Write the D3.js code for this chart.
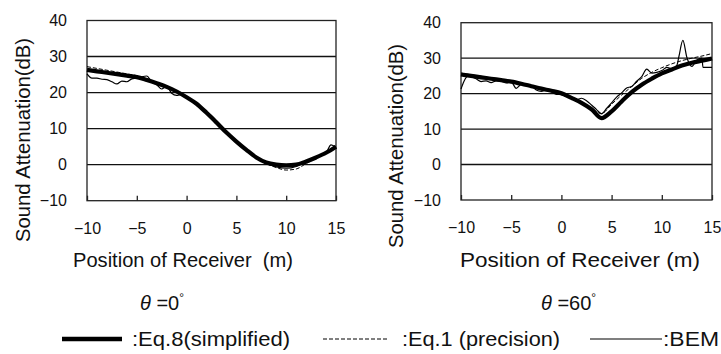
<!DOCTYPE html>
<html>
<head>
<meta charset="utf-8">
<script src="https://cdn.jsdelivr.net/npm/d3@7"></script>
<style>
  body { margin: 0; background: #fff; }
  svg { font-family: "Liberation Sans", Arial, sans-serif; }
  .grid-line { stroke: #111; stroke-width: 1.4; }
  .frame { fill: none; stroke: #222; stroke-width: 1.3; }
</style>
</head>
<body>
<svg id="chart" width="721" height="354"></svg>
<script>
// tick values shared by both panels
const xTicks = [-10, -5, 0, 5, 10, 15];
const yTicks = [-10, 0, 10, 20, 30, 40];

// theta = 0 deg
const xEq8L = [-10,-9,-8,-7,-6,-5,-4,-3,-2,-1,0,1,2,3,4,5,6,7,8,9,10,11,12,13,14,15];
const eq8L = [26.3,25.9,25.5,25.1,24.7,24.3,23.5,22.6,21.6,20.3,18.7,16.9,14.4,11.7,8.9,6.4,4.1,2.0,0.6,0.0,-0.2,0.0,0.9,2.0,3.3,5.0];
const xEq1L = [-10,-9,-8,-7,-6,-5,-4,-3,-2,-1,0,1,2,3,4,5,6,7,8,9,10,11,12,13,14,15];
const eq1L = [27.2,26.7,26.2,25.7,25.2,24.7,23.9,22.8,21.7,20.2,18.5,16.8,14.6,12.2,9.2,6.5,4.0,1.8,0.3,-0.8,-1.5,-1.2,0.3,1.8,3.3,5.5];
const xBemL = [-10,-9.5,-9,-8.5,-8,-7.5,-7,-6.5,-6,-5.5,-5,-4.5,-4,-3.5,-3,-2.5,-2,-1.5,-1,-0.5,0,1,2,2.5,3,4,5,6,7,8,9,10,11,12,13,14,14.5,15];
const bemL = [25.2,24.0,24.0,23.7,23.6,23.0,22.4,23.2,23.0,23.8,24.0,24.4,24.6,23.0,22.2,21.0,21.8,19.8,19.2,19.5,18.6,17.0,14.5,13.6,12.2,9.0,6.2,4.0,2.0,0.4,-0.6,-1.0,-0.5,1.0,2.0,3.3,5.5,4.8];

// theta = 60 deg
const xEq8R = [-10,-9,-8,-7,-6,-5,-4,-3,-2,-1,0,1,2,3,4,5,6,7,8,9,10,11,12,13,14,15];
const eq8R = [25.4,25.0,24.6,24.2,23.8,23.4,22.8,22.1,21.4,20.8,20.1,18.8,17.4,15.6,13.1,15.0,17.8,20.4,22.5,24.2,25.7,26.8,27.9,28.7,29.3,29.9];
const xEq1R = [-10,-9,-8,-7,-6,-5,-4,-3,-2,-1,0,1,2,3,4,5,6,7,8,9,10,11,12,13,14,15];
const eq1R = [25.8,25.3,24.9,24.4,24.0,23.5,22.9,22.2,21.4,20.6,19.7,18.6,17.3,15.8,14.4,17.0,19.6,22.0,24.3,26.0,27.3,28.4,29.3,30.0,30.6,31.3];
const xBemR = [-10,-9.7,-9.3,-9,-8.5,-8,-7.5,-7,-6.5,-6,-5.5,-5,-4.5,-4,-3.5,-3,-2.5,-2,-1.5,-1,-0.5,0,0.5,1,1.5,2,2.5,3,3.5,4,4.5,5,5.5,6,6.5,7,7.5,8,8.5,9,9.5,10,10.5,11,11.5,11.7,12.1,12.5,13,13.5,14,14.1,14.5,15];
const bemR = [21.3,23.5,25.0,24.8,24.2,23.4,23.6,23.1,23.6,23.5,23.0,23.3,21.5,22.6,22.5,22.3,21.0,20.6,21.2,20.6,19.8,19.7,19.3,18.9,18.3,18.7,18.0,16.8,15.5,14.3,15.8,17.4,19.0,20.2,21.6,22.0,23.5,24.8,26.9,25.8,26.0,26.5,27.4,27.0,28.0,30.4,35.0,30.2,27.7,29.5,30.0,27.4,27.4,27.4];

const panels = [
  {x0: 87, x1: 336, yTop: 20.5, yBot: 200.7, xs: [xEq8L, xEq1L, xBemL], ys: [eq8L, eq1L, bemL],
   titleX: 29.5, titleY: 140, xTitle: 'Position of Receiver\u00a0\u00a0(m)', xTitleX: 73, xTitleW: 220, theta: '0', thetaX: 140},
  {x0: 461, x1: 712, yTop: 22.7, yBot: 200, xs: [xEq8R, xEq1R, xBemR], ys: [eq8R, eq1R, bemR],
   titleX: 403, titleY: 146, xTitle: 'Position of Receiver (m)', xTitleX: 460, xTitleW: 240, theta: '60', thetaX: 541}
];

const styles = [
  {w: 4.2, dash: null},
  {w: 1.0, dash: '4,2'},
  {w: 1.2, dash: null}
];

const svg = d3.select('#chart');

panels.forEach(function(p) {
  const scaleX = d3.scaleLinear().domain([-10, 15]).range([p.x0, p.x1]);
  const scaleY = d3.scaleLinear().domain([-10, 40]).range([p.yBot, p.yTop]);
  const g = svg.append('g');

  // grid lines
  g.selectAll('.grid-line').data([0, 10, 20, 30]).enter().append('line').attr('class', 'grid-line')
    .attr('x1', p.x0).attr('x2', p.x1).attr('y1', function(d) { return scaleY(d); }).attr('y2', function(d) { return scaleY(d); });
  g.append('rect').attr('class', 'frame').attr('x', p.x0).attr('y', p.yTop).attr('width', p.x1 - p.x0).attr('height', p.yBot - p.yTop);

  const xAxis = d3.axisBottom(scaleX).tickValues(xTicks).tickSize(-5).tickPadding(22).tickFormat(function(d) { return d < 0 ? '\u2212' + (-d) : d; });
  const ax = g.append('g').attr('transform', 'translate(0,' + p.yBot + ')').call(xAxis);
  ax.select('.domain').remove();
  ax.selectAll('text').attr('font-size', 16).attr('fill', '#111').attr('font-family', null);
  ax.selectAll('line').attr('stroke', '#222').attr('stroke-width', 1.3);

  const yAxis = d3.axisLeft(scaleY).tickValues(yTicks).tickSize(0).tickPadding(20).tickFormat(function(d) { return d < 0 ? '\u2212' + (-d) : d; });
  const ay = g.append('g').attr('transform', 'translate(' + p.x0 + ',0)').call(yAxis);
  ay.select('.domain').remove();
  ay.selectAll('text').attr('font-size', 16).attr('fill', '#111').attr('font-family', null);

  // curves
  p.xs.forEach(function(xs, k) {
    const pts = xs.map(function(x, i) { return [scaleX(x), scaleY(p.ys[k][i])]; });
    const line = d3.line().curve(d3.curveMonotoneX);
    g.append('path').attr('d', line(pts)).attr('fill', 'none').attr('stroke', '#000')
      .attr('stroke-width', styles[k].w).attr('stroke-dasharray', styles[k].dash).attr('stroke-linejoin', 'round');
  });

  // titles
  g.append('text').attr('transform', 'translate(' + p.titleX + ',' + p.titleY + ') rotate(-90)').attr('text-anchor', 'middle')
    .attr('font-size', 20).attr('fill', '#111').attr('textLength', 204).attr('lengthAdjust', 'spacingAndGlyphs').text('Sound Attenuation(dB)');
  g.append('text').attr('x', p.xTitleX).attr('y', 267).attr('font-size', 20).attr('fill', '#111')
    .attr('textLength', p.xTitleW).attr('lengthAdjust', 'spacingAndGlyphs').text(p.xTitle);
  const th = g.append('text').attr('x', p.thetaX).attr('y', 310).attr('font-size', 20).attr('fill', '#111');
  th.append('tspan').attr('font-style', 'italic').text('\u03b8');
  th.append('tspan').text(' =' + p.theta);
  th.append('tspan').attr('font-size', 12).attr('dy', -8).text('\u00b0');
});

// legend
const legendLines = [
  {x1: 62, x2: 122, label: ':Eq.8(simplified)', tx: 132, tw: 158},
  {x1: 323, x2: 388, label: ':Eq.1 (precision)', tx: 402, tw: 158},
  {x1: 590, x2: 662, label: ':BEM', tx: 663, tw: 56}
];
const lg = svg.append('g');
legendLines.forEach(function(d, k) {
  lg.append('line').attr('x1', d.x1).attr('x2', d.x2).attr('y1', 339).attr('y2', 339).attr('stroke', '#000')
    .attr('stroke-width', k === 0 ? 4.5 : styles[k].w).attr('stroke-dasharray', styles[k].dash);
  lg.append('text').attr('x', d.tx).attr('y', 345.5).attr('font-size', 20).attr('fill', '#111')
    .attr('textLength', d.tw).attr('lengthAdjust', 'spacingAndGlyphs').text(d.label);
});
</script>
</body>
</html>
